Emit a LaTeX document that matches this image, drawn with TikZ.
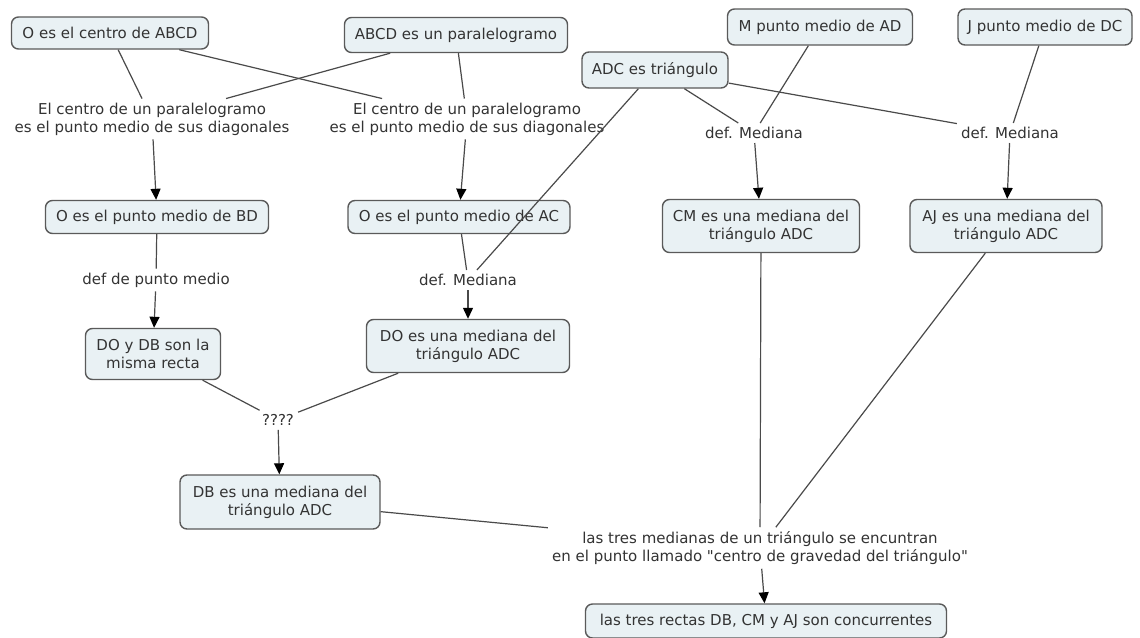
\documentclass[tikz,border=0pt]{standalone}
\usepackage{fontspec}
\setmainfont{DejaVu Sans}[Ligatures=TeXOff]
\usetikzlibrary{arrows.meta}
\definecolor{boxfill}{HTML}{E9F1F4}
\definecolor{boxline}{HTML}{5A5A5A}
\definecolor{linkc}{HTML}{4A4A4A}
\definecolor{txt}{HTML}{333333}
\begin{document}
\begin{tikzpicture}[x=1pt,y=-1pt,
  every node/.style={font=\fontsize{15}{18}\selectfont, text=txt},
  concept/.style={draw=boxline, line width=1.4pt, fill=boxfill, rounded corners=7pt, align=center, inner sep=2pt},
  linklabel/.style={align=center, inner sep=4pt},
  conn/.style={draw=linkc, line width=1.2pt},
  arr/.style={conn, -{Triangle[length=11pt,width=10pt,black]}}]
\useasboundingbox (0,0) rectangle (1140,637);
\fill[white] (0,0) rectangle (1140,637);

% concepts
\node[concept, minimum width=197pt, minimum height=32pt] (n1) at (110,33) {O es el centro de ABCD};
\node[concept, minimum width=223pt, minimum height=35pt] (n2) at (456,35) {ABCD es un paralelogramo};
\node[concept, minimum width=146pt, minimum height=36pt] (n3) at (655,70) {ADC es triángulo};
\node[concept, minimum width=185pt, minimum height=36pt] (n4) at (820,27) {M punto medio de AD};
\node[concept, minimum width=174pt, minimum height=36pt] (n5) at (1045,27) {J punto medio de DC};
\node[concept, minimum width=223pt, minimum height=33pt] (n6) at (157,217) {O es el punto medio de BD};
\node[concept, minimum width=222pt, minimum height=33pt] (n7) at (459,217) {O es el punto medio de AC};
\node[concept, minimum width=197pt, minimum height=53pt] (n8) at (761,226) {CM es una mediana del\\triángulo ADC};
\node[concept, minimum width=192pt, minimum height=53pt] (n9) at (1006,226) {AJ es una mediana del\\triángulo ADC};
\node[concept, minimum width=135pt, minimum height=51pt] (n10) at (153,354) {DO y DB son la\\misma recta};
\node[concept, minimum width=203pt, minimum height=53pt] (n11) at (468,346) {DO es una mediana del\\triángulo ADC};
\node[concept, minimum width=200pt, minimum height=54pt] (n12) at (280,502) {DB es una mediana del\\triángulo ADC};
\node[concept, minimum width=361pt, minimum height=34pt] (n13) at (766,621) {las tres rectas DB, CM y AJ son concurrentes};

% linking phrases
\node[linklabel] (l1) at (152,119) {El centro de un paralelogramo\\es el punto medio de sus diagonales};
\node[linklabel] (l2) at (467,119) {El centro de un paralelogramo\\es el punto medio de sus diagonales};
\node[linklabel] (l3) at (754,133) {def. Mediana};
\node[linklabel] (l4) at (1010,133) {def. Mediana};
\node[linklabel] (l5) at (156,280) {def de punto medio};
\node[linklabel] (l6) at (468,280) {def. Mediana};
\node[linklabel] (l7) at (278,420) {????};
\node[linklabel] (l8) at (760,548) {las tres medianas de un triángulo se encuntran\\en el punto llamado "centro de gravedad del triángulo"};

% connectors
\draw[conn] (n1) -- (l1);
\draw[conn] (n2) -- (l1);
\draw[conn] (n1) -- (l2);
\draw[conn] (n2) -- (l2);
\draw[arr] (l1) -- (n6);
\draw[arr] (l2) -- (n7);
\draw[conn] (n3) -- (l6);
\draw[conn] (n7) -- (l6);
\draw[arr] (l6) -- (n11);
\draw[conn] (n3) -- (l3);
\draw[conn] (n4) -- (l3);
\draw[conn] (n3) -- (l4);
\draw[conn] (n5) -- (l4);
\draw[arr] (l3) -- (n8);
\draw[arr] (l4) -- (n9);
\draw[conn] (n6) -- (l5);
\draw[arr] (l5) -- (n10);
\draw[conn] (n10) -- (l7);
\draw[conn] (n11) -- (l7);
\draw[arr] (l7) -- (n12);
\draw[conn] (n12) -- (l8);
\draw[conn] (n8) -- (l8);
\draw[conn] (n9) -- (l8);
\draw[arr] (l8) -- (n13);
\end{tikzpicture}
\end{document}
